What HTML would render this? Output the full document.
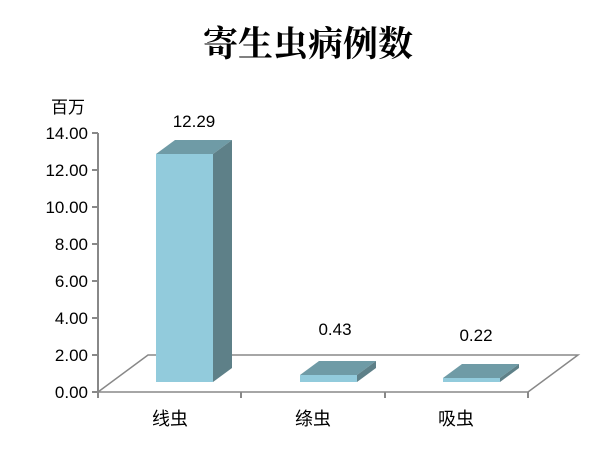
<!DOCTYPE html><html><head><meta charset="utf-8"><style>body{margin:0;background:#fff}</style></head><body>
<svg width="616" height="450" xmlns="http://www.w3.org/2000/svg" font-family="Liberation Sans, Noto Sans CJK SC, sans-serif">
<text x="308" y="56" font-size="35" font-weight="bold" text-anchor="middle" font-family="Noto Serif CJK SC, serif">寄生虫病例数</text>
<text x="68" y="113" font-size="17" text-anchor="middle" font-family="Noto Sans CJK SC, sans-serif">百万</text>
<g stroke="#888" stroke-width="2" fill="none">
<line x1="98" y1="133" x2="98" y2="392"/>
<line x1="92" y1="133" x2="98" y2="133"/><line x1="92" y1="170" x2="98" y2="170"/><line x1="92" y1="207" x2="98" y2="207"/><line x1="92" y1="244" x2="98" y2="244"/><line x1="92" y1="281" x2="98" y2="281"/><line x1="92" y1="318" x2="98" y2="318"/><line x1="92" y1="355" x2="98" y2="355"/><line x1="92" y1="392" x2="98" y2="392"/>
<polyline points="98,392 148,355 578,355 528,392 98,392" stroke-width="1.5"/>
<line x1="98" y1="392" x2="98" y2="398"/><line x1="241" y1="392" x2="241" y2="398"/><line x1="385" y1="392" x2="385" y2="398"/><line x1="528" y1="392" x2="528" y2="398"/>
</g>
<g font-size="17" text-anchor="end">
<text x="88" y="139">14.00</text><text x="88" y="176">12.00</text><text x="88" y="213">10.00</text><text x="88" y="250">8.00</text><text x="88" y="287">6.00</text><text x="88" y="324">4.00</text><text x="88" y="361">2.00</text><text x="88" y="398">0.00</text>
</g>
<polygon points="156,154 175,140 232,140 213,154" fill="#6f9ba6"/>
<polygon points="213,154 232,140 232,368 213,382" fill="#5e8088"/>
<rect x="156" y="154" width="57" height="228" fill="#92cbdc"/>
<polygon points="300,375 319,361 376,361 357,375" fill="#6f9ba6"/>
<polygon points="357,375 376,361 376,368 357,382" fill="#5e8088"/>
<rect x="300" y="375" width="57" height="7" fill="#92cbdc"/>
<polygon points="443,378 462,364 519,364 500,378" fill="#6f9ba6"/>
<polygon points="500,378 519,364 519,368 500,382" fill="#5e8088"/>
<rect x="443" y="378" width="57" height="4" fill="#92cbdc"/>
<g font-size="17" text-anchor="middle">
<text x="194" y="127">12.29</text><text x="335" y="335">0.43</text><text x="476" y="341">0.22</text>
</g>
<g font-size="18" text-anchor="middle" font-family="Noto Sans CJK SC, sans-serif">
<text x="170" y="425">线虫</text><text x="313" y="425">绦虫</text><text x="456" y="425">吸虫</text>
</g>
</svg></body></html>
